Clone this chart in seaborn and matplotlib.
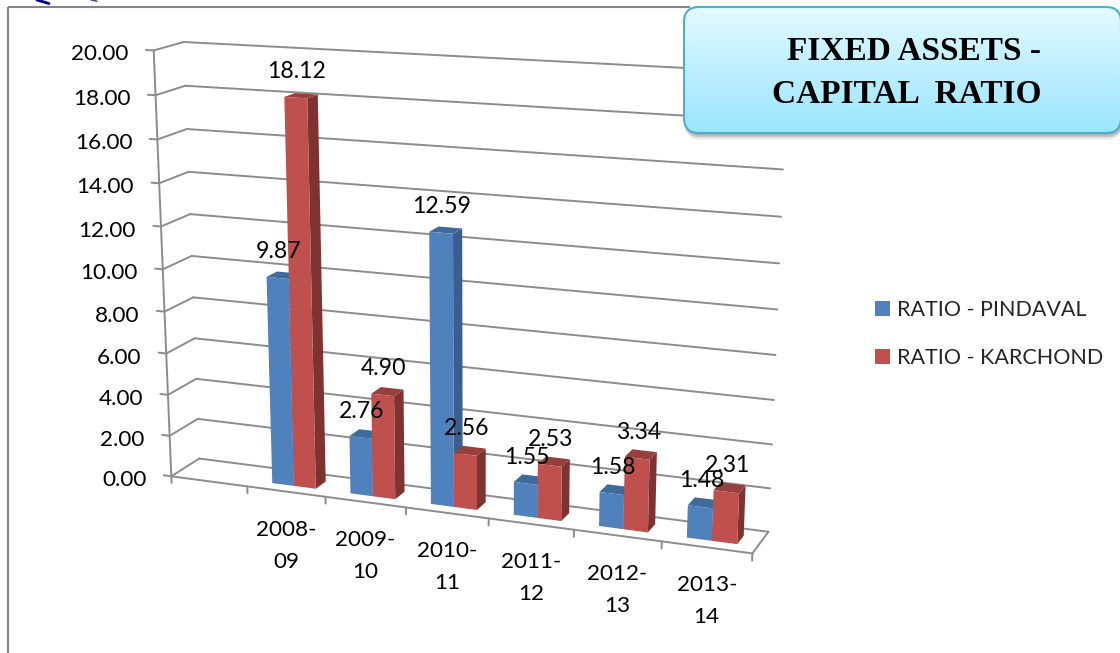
import numpy as np
import pandas as pd
import seaborn as sns
import matplotlib
matplotlib.use("Agg")
import matplotlib.pyplot as plt
from matplotlib.colors import LinearSegmentedColormap
from matplotlib.patches import FancyBboxPatch, Polygon
from matplotlib.transforms import Transform, IdentityTransform

years = ["2008-09", "2009-10", "2010-11", "2011-12", "2012-13", "2013-14"]
pindaval = [9.87, 2.76, 12.59, 1.55, 1.58, 1.48]
karchond = [18.12, 4.90, 2.56, 2.53, 3.34, 2.31]
series_names = ["RATIO - PINDAVAL", "RATIO - KARCHOND"]
y_ticks = [0, 2, 4, 6, 8, 10, 12, 14, 16, 18, 20]

W, H = 1120, 653
sns.set_theme(style="white")
plt.rcParams["font.family"] = ["Lato", "DejaVu Sans"]

# camera calibration: (u, v, depth) -> reference pixel
calib = [
    (0, 0, 0, 172, 477), (1, 0, 0, 247, 487), (2, 0, 0, 325, 497), (3, 0, 0, 406, 507),
    (4, 0, 0, 488, 518), (5, 0, 0, 574, 531), (6, 0, 0, 661, 542), (7, 0, 0, 753, 553),
    (0, 2, 0, 170, 435), (0, 4, 0, 168, 394), (0, 14, 0, 160, 183), (0, 16, 0, 157, 139),
    (0, 18, 0, 156, 95), (0, 20, 0, 153, 51),
    (0, 0, 1, 199, 459), (0, 2, 1, 198, 419), (0, 4, 1, 196, 379), (0, 14, 1, 189, 172),
    (0, 16, 1, 186, 128.5), (0, 18, 1, 185, 86), (0, 20, 1, 184, 42),
    (7, 0, 1, 768, 531), (7, 2, 1, 771, 488), (7, 4, 1, 772, 444), (7, 14, 1, 781, 217),
    (7, 16, 1, 783, 170),
]
A, b = [], []
for u, v, d, px, py in calib:
    A.append([u, v, d, 1, 0, 0, 0, 0, -px * u, -px * v, -px * d]); b.append(px)
    A.append([0, 0, 0, 0, u, v, d, 1, -py * u, -py * v, -py * d]); b.append(py)
P = np.linalg.lstsq(np.array(A, float), np.array(b, float), rcond=None)[0]


def project(x, v, d):
    """x is the categorical data position (first, empty category = 0)."""
    x, v, d = np.asarray(x, float), np.asarray(v, float), np.asarray(d, float)
    u = x + 0.5
    w = P[8] * u + P[9] * v + P[10] * d + 1
    px = (P[0] * u + P[1] * v + P[2] * d + P[3]) / w
    py = (P[4] * u + P[5] * v + P[6] * d + P[7]) / w
    return np.column_stack([px, H - py])


class Wall(Transform):
    input_dims = output_dims = 2
    is_separable = False
    has_inverse = False

    def __init__(self, wall_depth):
        super().__init__()
        self.wall_depth = wall_depth

    def transform_non_affine(self, values):
        values = np.asarray(values, float)
        return project(values[:, 0], values[:, 1], self.wall_depth)


D_FRONT, D_BACK = 0.30, 0.69
front = Wall(D_FRONT)
floor_front = Wall(0.0)
back = Wall(1.0)
ident = IdentityTransform()

df = pd.DataFrame({
    "year": years * 2,
    "ratio": pindaval + karchond,
    "series": [series_names[0]] * 6 + [series_names[1]] * 6,
})

fig = plt.figure(figsize=(W / 100, H / 100), dpi=100, facecolor="white")
ax = fig.add_axes([0, 0, 1, 1])
sns.barplot(data=df, x="year", y="ratio", hue="series", order=[""] + years,
            hue_order=series_names, palette=["#4F81BD", "#C0504D"], saturation=1,
            width=0.56, gap=0, linewidth=0, errorbar=None, ax=ax, legend=True)

GRID = "#8C8C8C"
LW = 1.4
FS_TICK = 16.2
FS_VAL = 16.6
line_kw = dict(color=GRID, lw=LW, solid_capstyle="round", zorder=2, clip_on=False)

# walls and gridlines
for v in y_ticks:
    ax.plot([-0.5, 6.5], [v, v], transform=back, **line_kw)
    pts = project([-0.5, -0.5], [v, v], [0, 1])
    ax.plot(pts[:, 0], pts[:, 1], transform=ident, **line_kw)
    ax.plot([-0.5, -0.6], [v, v], transform=floor_front, **line_kw)
    xy = project(-0.5, v, 0)[0]
    ax.text(xy[0] - 25, xy[1] - 2, f"{v:.2f}", transform=ident, ha="right", va="center_baseline",
            fontsize=FS_TICK, color="black", zorder=100)
ax.plot([-0.5, -0.5], [0, 20], transform=floor_front, **line_kw)
ax.plot([-0.5, 6.5], [0, 0], transform=floor_front, **line_kw)
pts = project([6.5, 6.5], [0, 0], [0, 1])
ax.plot(pts[:, 0], pts[:, 1], transform=ident, **line_kw)
for k in range(8):
    ax.plot([k - 0.5, k - 0.5], [0, -0.33], transform=floor_front, **line_kw)

for k, yr in enumerate(years):
    xy = project(k + 1, 0, 0)[0]
    ax.text(xy[0], xy[1] - 54, yr.replace("-", "-\n"), transform=ident, ha="center", va="center",
            linespacing=1.75, fontsize=FS_TICK, color="black", zorder=100)

# bars: seaborn's rectangles are moved onto the projected plane, then given depth
shades = [("#3A5F8E", "#3F6A9C"), ("#7F3331", "#96403D")]
for s, container in enumerate(ax.containers):
    side_c, top_c = shades[s]
    for patch in container:
        h = patch.get_height()
        if not np.isfinite(h) or h == 0:
            continue
        x0, x1 = patch.get_x(), patch.get_x() + patch.get_width()
        z = 10 + 2 * x0 + 0.6 * s
        side = project([x1, x1, x1, x1], [0, h, h, 0], [D_FRONT, D_FRONT, D_BACK, D_BACK])
        top = project([x0, x1, x1, x0], [h, h, h, h], [D_FRONT, D_FRONT, D_BACK, D_BACK])
        ax.add_patch(Polygon(side, closed=True, fc=side_c, ec="none", transform=ident, zorder=z, clip_on=False))
        ax.add_patch(Polygon(top, closed=True, fc=top_c, ec="none", transform=ident, zorder=z, clip_on=False))
        patch.set_transform(front)
        patch.set_zorder(z + 0.1)
        patch.set_clip_on(False)
        xy = project((x0 + x1) / 2, h, D_FRONT)[0]
        ax.text(xy[0] + 1, xy[1] + 28, f"{h:.2f}", transform=ident, ha="center", va="center_baseline",
                fontsize=FS_VAL, color="black", zorder=100)

ax.set_axis_off()
ax.set_xlim(-0.5, 6.5)
ax.set_ylim(0, 20)

handles = ax.get_legend().legend_handles
ax.legend(handles, series_names, loc="upper left", bbox_to_anchor=(866.3 / W, 1 - 291.5 / H),
          bbox_transform=fig.transFigure, frameon=False, fontsize=15.5, handlelength=0.7,
          handleheight=0.7, handletextpad=0.32, labelspacing=1.28, borderpad=0.4,
          borderaxespad=0).set_zorder(100)

# page furniture and title box, in pixel coordinates
ov = fig.add_axes([0, 0, 1, 1], zorder=5)
ov.patch.set_visible(False)
ov.set_axis_off()
ov.plot([8, 8], [7, H], color="#858585", lw=1.5, solid_capstyle="butt")
ov.plot([8, 690], [7, 7], color="#858585", lw=1.5, solid_capstyle="butt")
ov.plot([37, 49], [0, 3.5], color="#00008B", lw=2.0)
ov.plot([91, 97], [0, 1.2], color="#3A3A9A", lw=1.0)

bx, by, bw, bh, rad = 684, 7, 437, 126, 15
for off, al in [(7, 0.06), (5.5, 0.10), (4, 0.14), (2.5, 0.18)]:
    ov.add_patch(FancyBboxPatch((bx + 1, by + off), bw, bh, boxstyle=f"round,pad=0,rounding_size={rad}",
                                fc="#404040", ec="none", alpha=al, clip_on=False))
box = FancyBboxPatch((bx, by), bw, bh, boxstyle=f"round,pad=0,rounding_size={rad}",
                     fc="none", ec="#4FAFCB", lw=1.5, zorder=4, clip_on=False)
grad_cmap = LinearSegmentedColormap.from_list("g", ["#E4FAFF", "#BEEFFF", "#9BE6FD"])
img = ov.imshow(np.linspace(0, 1, 128)[:, None], extent=[bx, bx + bw, by + bh, by], aspect="auto",
                cmap=grad_cmap, zorder=3)
ov.add_patch(box)
img.set_clip_path(box)
ov.set_xlim(0, W)
ov.set_ylim(H, 0)
ov.text(1041, 73, "FIXED ASSETS -\nCAPITAL  RATIO", ha="right", va="center", multialignment="right",
        family="Liberation Serif", fontweight="bold", fontsize=24, linespacing=1.47,
        color="black", zorder=6)

fig.savefig("out.png", dpi=100)
